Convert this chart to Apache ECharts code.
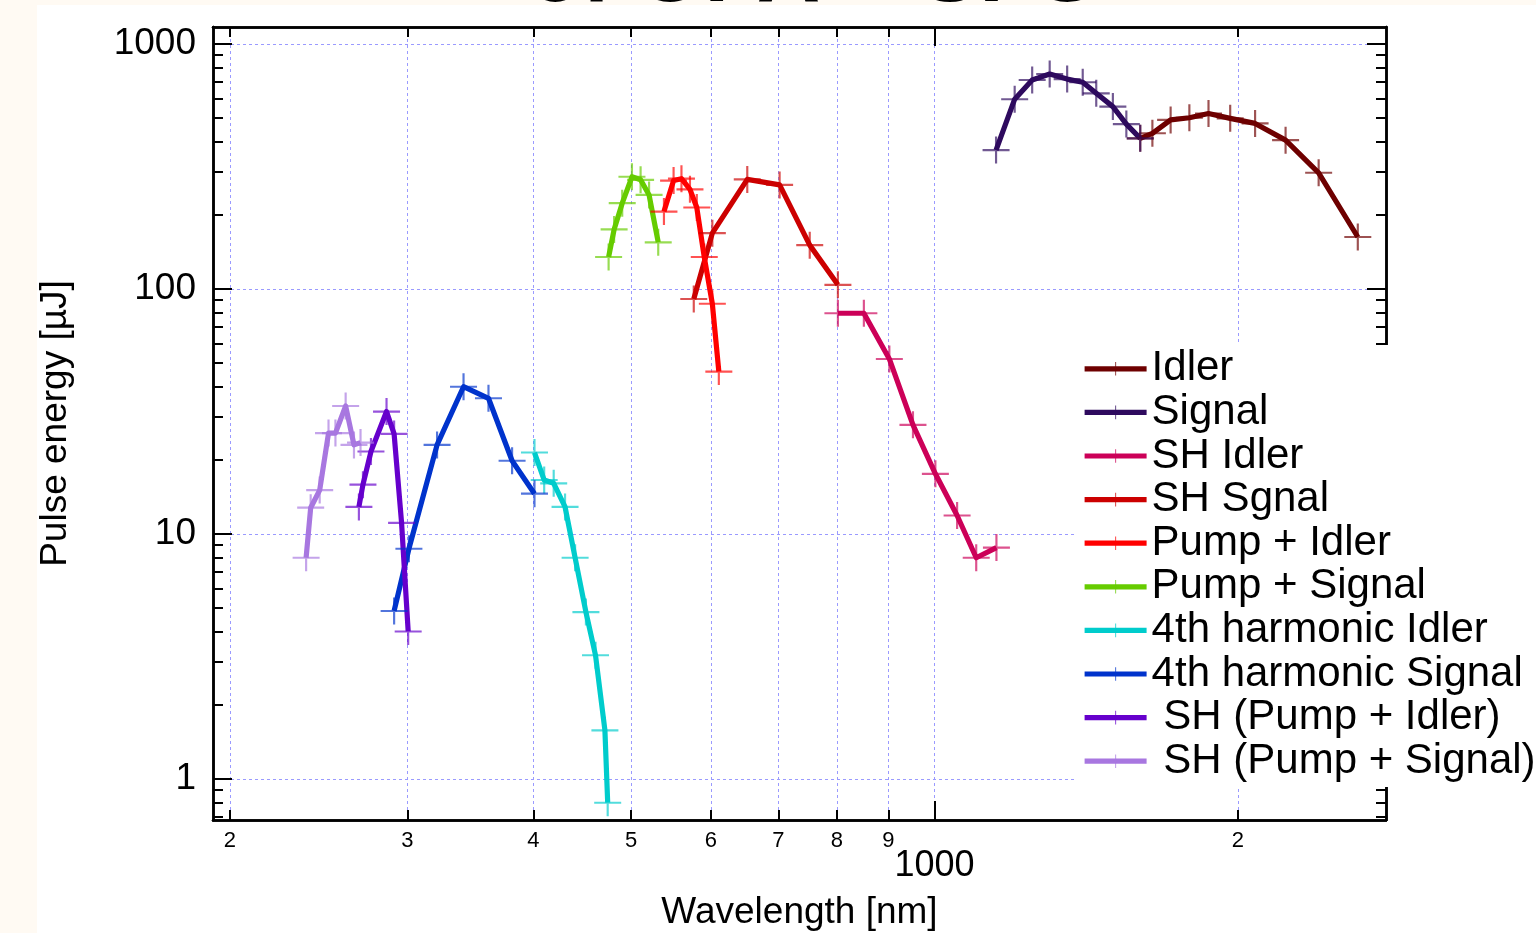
<!DOCTYPE html>
<html><head><meta charset="utf-8">
<script src="https://cdn.jsdelivr.net/npm/echarts@6/dist/echarts.min.js"></script>
<style>
html,body{margin:0;padding:0;width:1536px;height:933px;overflow:hidden;background:#fffaf3;}
#paper{position:absolute;left:37px;top:5px;width:1499px;height:928px;background:#ffffff;}
#chart{position:absolute;left:0;top:0;width:1536px;height:933px;}
</style></head><body>
<div id="paper"></div><div id="chart"></div>
<script>
// ---- data ----
const seriesNames = ['Idler','Signal','SH Idler','SH Sgnal','Pump + Idler','Pump + Signal','4th harmonic Idler','4th harmonic Signal',' SH (Pump + Idler)',' SH (Pump + Signal)'];
const seriesColors = ['#6e0000','#2e0a5e','#cc0058','#cc0000','#ff0000','#66cc00','#00cccc','#0033cc','#6600cc','#a877e0'];

const idlerWl = [1600,1645,1715,1790,1870,1965,2080,2230,2405,2630];
const idlerE  = [412,432,490,500,520,497,474,405,298,163];
const signalWl = [1151,1201,1250,1301,1354,1403,1447,1503,1550,1600];
const signalE  = [369,595,713,754,719,698,629,555,471,412];
const shIdlerWl = [802,851,902,952,1002,1053,1100,1152];
const shIdlerE  = [79.6,79.6,51.8,27.9,17.6,11.9,8.0,8.8];
const shSignalWl = [577,602,652,702,752,802];
const shSignalE  = [91,169,280,266,151,104];
const pumpIdlerWl = [539,551,561,572,581,591,602,611];
const pumpIdlerE  = [207,277,282,255,215,135,87,46];
const pumpSignalWl = [475,481,490,501,511,521,532];
const pumpSignalE  = [135,175,224,287,279,242,155];
const fhIdlerWl = [401,410,419,430,440,451,461,471,474];
const fhIdlerE  = [21.5,16.6,16.1,12.9,8.0,4.8,3.2,1.58,0.80];
const fhSignalWl = [291,301,321,341,361,381,401];
const fhSignalE  = [4.85,8.7,23.1,39.9,35.8,19.9,14.6];
const shPumpIdlerWl = [268.5,271,276,286,291,296,300.5];
const shPumpIdlerE  = [12.9,15.9,21.7,31.6,25.6,11.1,4.0];
const shPumpSignalWl = [238,240.5,245.5,250.5,254.5,260.5,265.5,269.5];
const shPumpSignalE  = [8.0,12.8,15.1,25.8,25.8,33.3,23.1,23.6];

const xTickVals = [200,300,400,500,600,700,800,900,1000,2000];
const xMinorLabelVals = [200,300,400,500,600,700,800,900,2000];
const xMinorLabelText = ['2','3','4','5','6','7','8','9','2'];
const xMajorVals = [1000];
const xMajorLabelText = ['1000'];
const yMajorVals = [1,10,100,1000];
const yMajorLabelText = ['1','10','100','1000'];
const yMinorVals = [0.7,0.8,0.9,2,3,4,5,6,7,8,9,20,30,40,50,60,70,80,90,200,300,400,500,600,700,800,900];

const titleText = 'of OPA + SFG';
const xName = 'Wavelength [nm]';
const yName = 'Pulse energy [\u00b5J]';

// ---- chart ----
const X_MIN = 192.4, X_MAX = 2805, Y_MIN = 0.68, Y_MAX = 1173;
const FONT = '"Liberation Sans", Arial, Helvetica, sans-serif';
const CROSS = 'path://M46,0H54V46H100V54H54V100H46V54H0V46H46Z';

const allWl = [idlerWl,signalWl,shIdlerWl,shSignalWl,pumpIdlerWl,pumpSignalWl,fhIdlerWl,fhSignalWl,shPumpIdlerWl,shPumpSignalWl];
const allE = [idlerE,signalE,shIdlerE,shSignalE,pumpIdlerE,pumpSignalE,fhIdlerE,fhSignalE,shPumpIdlerE,shPumpSignalE];

function lookup(vals, texts){
  return function(v){
    const i = vals.findIndex(x => Math.abs(x - v) / x < 1e-6);
    return i >= 0 ? texts[i] : '';
  };
}
function axisCommon(min, max){
  return {type:'log', logBase:10, min:min, max:max,
    axisLine:{show:true, onZero:false, lineStyle:{color:'#000', width:2.5}},
    minorTick:{show:false}, minorSplitLine:{show:false}, axisPointer:{show:false}};
}
function mkAxis(kind, pos, ticks, len, labVals, labTexts, margin, fs, split){
  const a = axisCommon(kind === 'x' ? X_MIN : Y_MIN, kind === 'x' ? X_MAX : Y_MAX);
  a.position = pos;
  a.axisTick = {show:true, inside:true, length:len, customValues:ticks, lineStyle:{color:'#000', width:2}};
  if (labVals) {
    a.axisLabel = {show:true, customValues:labVals, formatter:lookup(labVals, labTexts), margin:margin,
      color:'#000', fontSize:fs, fontFamily:FONT};
  } else {
    a.axisLabel = {show:false};
  }
  a.splitLine = {show:!!split, lineStyle:{color:'#9a9aff', width:1, type:[3,3]}};
  return a;
}

const xAxes = [
  Object.assign(mkAxis('x','bottom',xTickVals,10,xMinorLabelVals,xMinorLabelText,10,22,true),
    {name:xName, nameLocation:'middle', nameGap:74, nameTextStyle:{color:'#000', fontSize:37, fontFamily:FONT}}),
  mkAxis('x','bottom',xMajorVals,19,xMajorVals,xMajorLabelText,28,36,false),
  mkAxis('x','top',xTickVals,10,null,null,0,0,false),
  mkAxis('x','top',xMajorVals,19,null,null,0,0,false)
];
const yAxes = [
  Object.assign(mkAxis('y','left',yMajorVals,19,yMajorVals,yMajorLabelText,17,37,true),
    {name:yName, nameLocation:'middle', nameGap:139, nameTextStyle:{color:'#000', fontSize:37, fontFamily:FONT}}),
  mkAxis('y','left',yMinorVals,10,null,null,0,0,false),
  mkAxis('y','right',yMajorVals,19,null,null,0,0,false),
  mkAxis('y','right',yMinorVals,10,null,null,0,0,false)
];

const series = seriesNames.map((n, i) => ({
  type:'line', name:n, xAxisIndex:0, yAxisIndex:0,
  data: allWl[i].map((w, k) => [w, allE[i][k]]),
  symbol: CROSS, symbolSize: 27, showSymbol:true, clip:true,
  lineStyle:{color:seriesColors[i], width:5.2, join:'round', cap:'butt'},
  itemStyle:{color:seriesColors[i], opacity:0.68},
  emphasis:{disabled:true}, animation:false
}));

const chart = echarts.init(document.getElementById('chart'), null, {renderer:'canvas'});
chart.setOption({
  backgroundColor:'transparent',
  animation:false,
  title:{text:titleText, left:815, textAlign:'center', top:-67, padding:0,
    textStyle:{color:'#000', fontSize:88, fontWeight:'bold', fontFamily:FONT}},
  grid:{left:213, right:150, top:27, bottom:113, containLabel:false, outerBoundsMode:'none'},
  xAxis:xAxes, yAxis:yAxes,
  legend:{orient:'vertical', left:1075, top:345, padding:[2,30,4,7], itemGap:0,
    itemWidth:62, itemHeight:17, backgroundColor:'#ffffff', data:seriesNames,
    lineStyle:{width:5.2}, itemStyle:{opacity:0.68},
    textStyle:{color:'#000', fontSize:42, lineHeight:43.6, fontFamily:FONT},
    selectedMode:false},
  series:series
});
</script>
</body></html>
